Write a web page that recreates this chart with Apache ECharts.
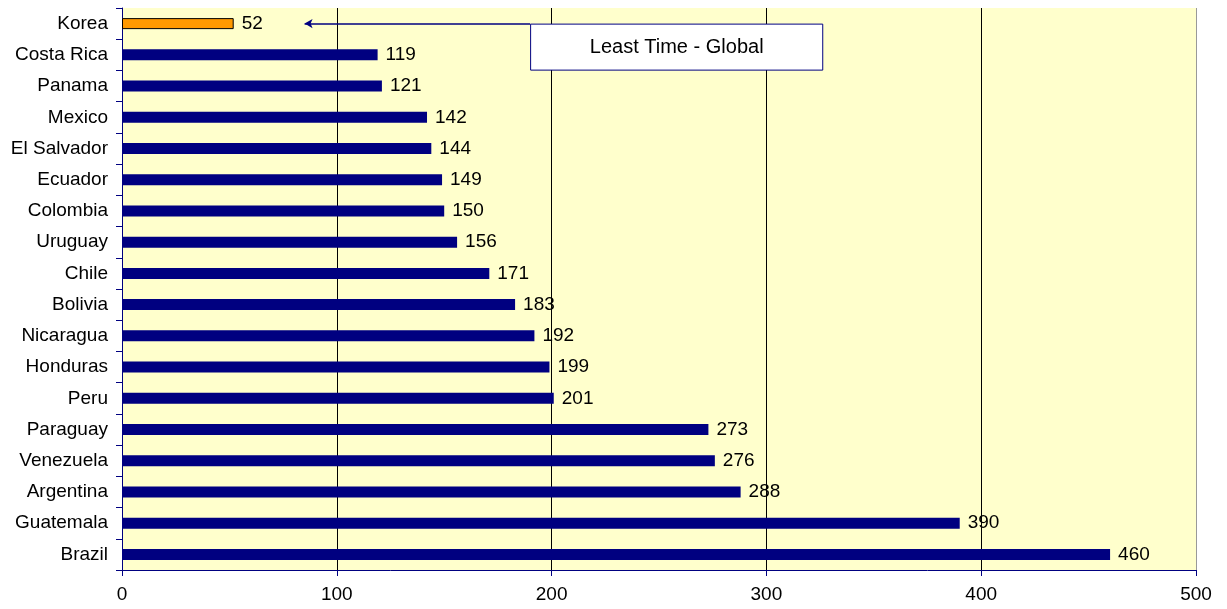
<!DOCTYPE html>
<html>
<head>
<meta charset="utf-8">
<script src="https://cdn.jsdelivr.net/npm/echarts@6/dist/echarts.min.js"></script>
<style>
  html, body { margin: 0; padding: 0; background: #fff; }
  #chart { width: 1227px; height: 609px; }
</style>
</head>
<body>
<div id="chart"></div>
<script>
// 国家 / 天数
const countries = ["Korea", "Costa Rica", "Panama", "Mexico", "El Salvador", "Ecuador",
  "Colombia", "Uruguay", "Chile", "Bolivia", "Nicaragua", "Honduras", "Peru",
  "Paraguay", "Venezuela", "Argentina", "Guatemala", "Brazil"];
const days = [52, 119, 121, 142, 144, 149, 150, 156, 171, 183, 192, 199, 201, 273, 276, 288, 390, 460];
const xTicks = [0, 100, 200, 300, 400, 500];
const highlight = "Korea";
const noteText = "Least Time - Global";

const font = "'Liberation Sans', Arial, sans-serif";
const myChart = echarts.init(document.getElementById("chart"));

const barData = countries.map((name, i) => {
  if (name === highlight) {
    return { value: days[i], itemStyle: { color: "#FF9900", borderColor: "#000", borderWidth: 1 } };
  }
  return { value: days[i] };
});

const option = {
  backgroundColor: "#ffffff",
  animation: false,
  grid: {
    left: 122, right: 31, top: 8, bottom: 39,
    show: true, backgroundColor: "#FFFFCC", borderWidth: 0
  },
  xAxis: {
    type: "value",
    min: xTicks[0],
    max: xTicks[xTicks.length - 1],
    interval: 100,
    axisLine: { show: true, lineStyle: { color: "#000080", width: 1 } },
    axisTick: { show: true, length: 6, lineStyle: { color: "#000080" } },
    axisLabel: { color: "#000", fontFamily: font, fontSize: 19, margin: 15 },
    splitLine: {
      show: true,
      lineStyle: { color: ["#000", "#000", "#000", "#000", "#000", "#999"], width: 1 }
    }
  },
  yAxis: {
    type: "category",
    data: countries,
    inverse: true,
    axisLine: { show: true, lineStyle: { color: "#000080", width: 1 } },
    axisTick: { show: true, length: 6, lineStyle: { color: "#000080" } },
    axisLabel: { color: "#000", fontFamily: font, fontSize: 19, margin: 14 },
    splitLine: { show: false }
  },
  series: [{
    type: "bar",
    data: barData,
    barWidth: 11,
    itemStyle: { color: "#000080" },
    label: {
      show: true,
      position: "right",
      distance: 8,
      color: "#000",
      fontFamily: font,
      fontSize: 19
    },
    markLine: {
      silent: true,
      symbol: ["arrow", "none"],
      symbolSize: [7, 8],
      label: { show: false },
      lineStyle: { color: "#000080", width: 1.5, type: "solid", opacity: 1 },
      data: [[{ coord: [85, highlight] }, { coord: [190, highlight] }]]
    }
  }]
};
myChart.setOption(option);

// 注释框
const p0 = myChart.convertToPixel({ gridIndex: 0 }, [190, highlight]);
const p1 = myChart.convertToPixel({ gridIndex: 0 }, [326, highlight]);
myChart.setOption({
  graphic: [{
    type: "group",
    left: p0[0],
    top: p0[1],
    children: [{
      type: "rect",
      shape: { x: 0, y: 0, width: p1[0] - p0[0], height: 46 },
      style: { fill: "#fff", stroke: "#000080", lineWidth: 1 }
    }, {
      type: "text",
      x: (p1[0] - p0[0]) / 2,
      y: 23,
      style: {
        text: noteText, fill: "#000", font: "20px " + font,
        align: "center", verticalAlign: "middle"
      }
    }]
  }]
});
</script>
</body>
</html>
